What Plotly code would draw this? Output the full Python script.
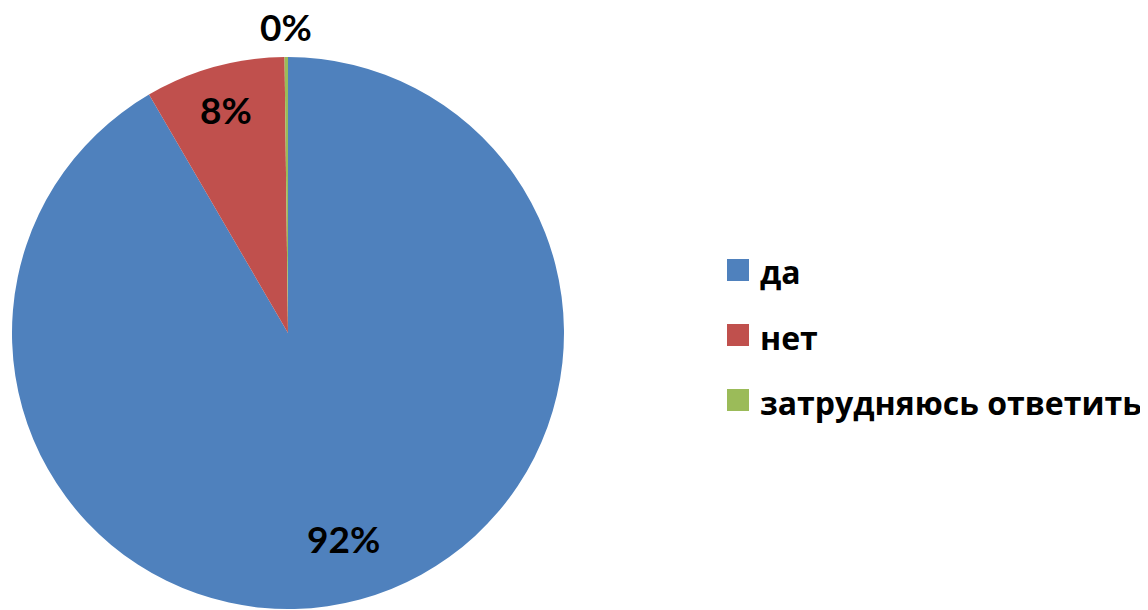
import math
import plotly.graph_objects as go

categories = ["да", "нет", "затрудняюсь ответить"]
values = [91.6, 8.2, 0.2]
colors = ["#4F81BD", "#C0504D", "#9BBB59"]

# layout / style settings (pixel positions as seen in the window; page body adds an 8px offset)
W, H = 1148, 610
OFF = 8
CX, CY, R = 288 - OFF, 333 - OFF, 276   # pie centre and radius in figure pixels
label_radius = [0.77, 0.84, 1.11]       # radial position of each % label (fraction of R)
LEG_X, LEG_Y0, LEG_DY = 727 - OFF, 271 - OFF, 65
SQ = 22
num_font = dict(family="Lato, Open Sans, sans-serif", size=37, color="black", weight="bold")
leg_font = dict(family="Open Sans, Noto Sans, sans-serif", size=32, color="black", weight="bold")

fig = go.Figure(
    go.Pie(
        labels=categories,
        values=values,
        sort=False,
        direction="clockwise",
        rotation=0,
        marker=dict(colors=colors, line=dict(width=0)),
        textinfo="none",
        domain=dict(x=[(CX - R) / W, (CX + R) / W], y=[(H - CY - R) / H, (H - CY + R) / H]),
        hoverinfo="label+percent",
    )
)

# percentage labels placed on each slice's bisector
total = sum(values)
cum = 0.0
annotations = []
for v, f in zip(values, label_radius):
    mid = (cum + v / 2) / total * 2 * math.pi
    cum += v
    px = CX + f * R * math.sin(mid)
    py = CY - f * R * math.cos(mid)
    annotations.append(dict(
        x=px / W, y=1 - py / H, xref="paper", yref="paper",
        text=f"{round(v / total * 100)}%", showarrow=False,
        xanchor="center", yanchor="middle", font=num_font,
    ))

# legend (squares + labels)
shapes = []
for i, (cat, col) in enumerate(zip(categories, colors)):
    yc = LEG_Y0 + i * LEG_DY
    shapes.append(dict(
        type="rect", xref="paper", yref="paper",
        x0=LEG_X / W, x1=(LEG_X + SQ) / W,
        y0=1 - (yc - 1 - SQ / 2) / H, y1=1 - (yc - 1 + SQ / 2) / H,
        fillcolor=col, line=dict(width=0),
    ))
    annotations.append(dict(
        x=(LEG_X + 31) / W, y=1 - (yc + 1) / H, xref="paper", yref="paper",
        text=cat, showarrow=False, xanchor="left", yanchor="middle", font=leg_font,
    ))

fig.update_layout(
    width=W,
    height=H,
    margin=dict(l=0, r=0, t=0, b=0),
    paper_bgcolor="white",
    showlegend=False,
    annotations=annotations,
    shapes=shapes,
)

fig.write_html("out.html")
